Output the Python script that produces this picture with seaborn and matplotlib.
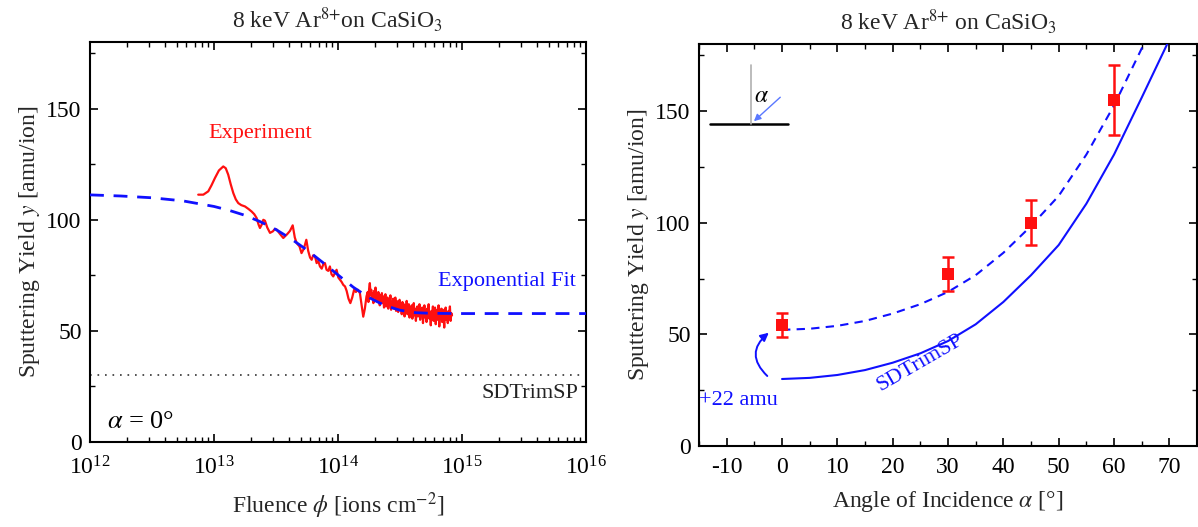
import numpy as np
import pandas as pd
import matplotlib
matplotlib.use("Agg")
import matplotlib.pyplot as plt
from matplotlib.patches import FancyArrowPatch
from matplotlib.ticker import MultipleLocator, LogLocator, NullFormatter
import seaborn as sns

# ---------------- data: fluence dependence (alpha = 0 deg) ----------------
exp_log_fluence = [12.873, 12.914, 12.954, 12.98, 13.008, 13.04, 13.075, 13.095, 13.115, 13.135,
                   13.156, 13.176, 13.196, 13.22, 13.25, 13.28, 13.304, 13.325, 13.344, 13.36,
                   13.371, 13.385, 13.398, 13.411, 13.43, 13.452, 13.475, 13.49, 13.506, 13.53,
                   13.559, 13.59, 13.613, 13.635, 13.652, 13.667, 13.69, 13.706, 13.725, 13.745,
                   13.76, 13.775, 13.788, 13.80, 13.815, 13.828, 13.841, 13.855, 13.869, 13.882,
                   13.895, 13.908, 13.922, 13.935, 13.948, 13.962, 13.975, 13.989, 14.003, 14.016,
                   14.03, 14.043, 14.057, 14.07, 14.085, 14.10, 14.115, 14.13, 14.145, 14.16,
                   14.177, 14.19, 14.204, 14.217, 14.23]
exp_yield = [111.3, 111.3, 112.8, 115.5, 118.8, 122.2, 124.0, 123.2, 120.3, 116.0,
             112.0, 109.2, 107.5, 106.6, 106.0, 104.8, 103.7, 102.5, 100.8, 97.8,
             96.3, 97.8, 100.0, 99.6, 96.5, 94.1, 94.8, 95.8, 95.6, 93.8,
             91.8, 93.5, 95.0, 97.5, 92.0, 89.5, 88.0, 85.0, 87.0, 91.0,
             86.0, 83.0, 82.0, 84.0, 83.5, 80.5, 81.5, 79.0, 78.0, 80.0,
             80.5, 77.5, 77.0, 79.0, 75.5, 74.5, 76.0, 77.5, 74.0, 73.0,
             72.0, 70.7, 70.0, 68.0, 64.5, 62.5, 65.0, 68.5, 67.5, 68.5,
             67.0, 62.0, 56.4, 60.0, 65.5]

# densely sampled tail of the measurement (evenly spaced in log fluence)
tail_log_start, tail_log_end = 14.24, 14.92
tail_yield = [67.5, 63.0, 69.0, 71.5, 66.0, 68.5, 64.5, 67.0, 62.5, 68.0,
              65.5, 69.5, 64.0, 66.5, 63.0, 67.5, 65.0, 61.5, 66.0, 64.0,
              67.0, 62.5, 65.5, 60.5, 64.5, 66.5, 61.0, 63.5, 65.0, 60.0,
              64.0, 62.0, 66.0, 59.5, 63.0, 61.5, 64.5, 60.0, 62.5, 65.0,
              59.0, 63.5, 61.0, 58.5, 62.5, 64.0, 59.5, 61.5, 57.5, 63.0,
              60.0, 62.0, 56.5, 61.5, 59.0, 63.5, 57.5, 60.5, 62.0, 56.0,
              60.0, 58.5, 61.5, 55.5, 59.5, 62.5, 57.0, 60.0, 54.5, 59.0,
              61.0, 56.5, 58.5, 62.0, 55.0, 59.5, 57.0, 60.5, 53.5, 58.0,
              61.5, 56.0, 59.0, 54.0, 60.0, 57.5, 62.0, 55.5, 58.5, 52.5,
              59.0, 56.5, 61.0, 54.5, 58.0, 60.5, 53.0, 57.5, 59.5, 55.0,
              61.5, 52.0, 58.5, 56.0, 60.0, 54.0, 59.5, 57.0, 51.5, 58.0,
              60.5, 55.0, 57.5, 53.5, 59.0, 56.0, 61.0, 54.5, 58.0, 57.0]

fit_log_fluence = [12.0, 12.25, 12.5, 12.75, 13.0, 13.125, 13.25, 13.375, 13.5, 13.625,
                   13.75, 13.875, 14.0, 14.125, 14.25, 14.375, 14.5, 14.625, 14.75, 15.0,
                   15.5, 16.0]
fit_yield = [111.2, 110.7, 109.9, 108.5, 106.0, 104.2, 102.0, 99.1, 95.6, 91.3,
             86.4, 80.9, 75.2, 69.6, 65.0, 61.5, 59.3, 58.2, 57.9, 57.8,
             57.8, 57.8]

sdtrim_normal = 30.3

# ---------------- data: angular dependence ----------------
meas_angle = [0, 30, 45, 60]
meas_yield = [54.0, 77.0, 100.0, 155.0]
meas_err = [5.4, 7.6, 10.0, 15.7]

sim_angle = [0, 5, 10, 15, 20, 25, 30, 35, 40, 45, 50, 55, 60, 65, 70]
sim_yield = [30.0, 30.5, 31.8, 34.0, 37.3, 41.5, 47.0, 54.5, 64.5, 76.5,
             90.0, 108.5, 130.5, 156.0, 182.0]
yield_shift = 22  # amu/ion added to the simulation

# ---------------- style ----------------
sns.set_theme(style="ticks")
plt.rcParams.update({
    "font.family": ["Liberation Serif", "DejaVu Serif"],
    "mathtext.fontset": "stix",
    "axes.unicode_minus": False,
    "axes.linewidth": 1.5,
    "axes.edgecolor": "black",
    "xtick.color": "black",
    "ytick.color": "black",
    "xtick.direction": "in",
    "ytick.direction": "in",
    "xtick.major.size": 6,
    "ytick.major.size": 6,
    "xtick.minor.size": 3.5,
    "ytick.minor.size": 3.5,
    "xtick.major.width": 1.2,
    "ytick.major.width": 1.2,
    "xtick.minor.width": 1.0,
    "ytick.minor.width": 1.0,
    "xtick.labelsize": 17,
    "ytick.labelsize": 17,
    "axes.labelsize": 17,
    "axes.titlesize": 17,
})

BLUE = "#1010ff"
RED = "#ff1010"

fig = plt.figure(figsize=(11.98, 5.27), dpi=100)
axL = fig.add_axes([0.0751, 0.1613, 0.414, 0.759])
axR = fig.add_axes([0.5835, 0.1537, 0.4157, 0.7628])

# ---------------- left panel ----------------
axL.set_xscale("log")
tail_log = np.linspace(tail_log_start, tail_log_end, len(tail_yield))
exp_df = pd.DataFrame({
    "fluence": 10 ** np.concatenate([exp_log_fluence, tail_log]),
    "yield": np.concatenate([exp_yield, tail_yield]),
})
fit_df = pd.DataFrame({"fluence": 10 ** np.array(fit_log_fluence), "yield": fit_yield})

sns.lineplot(data=exp_df, x="fluence", y="yield", ax=axL, color=RED, lw=1.6,
             sort=False, estimator=None, zorder=3)
sns.lineplot(data=fit_df, x="fluence", y="yield", ax=axL, color=BLUE, lw=2.0,
             sort=False, estimator=None, zorder=4, linestyle=(0, (5, 3.5)))
axL.axhline(sdtrim_normal, color="#333333", lw=1.2, linestyle=(0, (1, 3.5)), zorder=2)

axL.set_xlim(1e12, 1e16)
axL.set_ylim(0, 180)
axL.xaxis.set_major_locator(LogLocator(base=10, numticks=10))
axL.xaxis.set_minor_locator(LogLocator(base=10, subs=np.arange(2, 10), numticks=50))
axL.xaxis.set_minor_formatter(NullFormatter())
axL.yaxis.set_major_locator(MultipleLocator(50))
axL.yaxis.set_minor_locator(MultipleLocator(25))
axL.tick_params(which="both", top=True, right=True)
axL.tick_params(axis="x", which="major", pad=10)
axL.tick_params(axis="y", which="major", pad=6)

axL.text(10 ** 13.37, 139, "Experiment", color=RED, fontsize=16, ha="center", va="center")
axL.text(10 ** 15.36, 72, "Exponential Fit", color=BLUE, fontsize=16, ha="center", va="center")
axL.text(10 ** 15.55, 22, "SDTrimSP", color="#222222", fontsize=16, ha="center", va="center")
axL.text(10 ** 12.14, 9, r"$\alpha$ = 0°", color="black", fontsize=19, ha="left", va="center")

axL.set_xlabel(r"Fluence $\phi$ [ions cm$^{-2}$]", labelpad=8)
axL.set_ylabel(r"Sputtering Yield $y$ [amu/ion]", labelpad=3)
axL.set_title(r"8 keV Ar$^{8{+}}$on CaSiO$_3$", pad=10)

# ---------------- right panel ----------------
sim_df = pd.DataFrame({"angle": sim_angle, "yield": sim_yield})
shifted_df = pd.DataFrame({"angle": sim_angle, "yield": np.array(sim_yield) + yield_shift})
meas_df = pd.DataFrame({"angle": meas_angle, "yield": meas_yield, "err": meas_err})

sns.lineplot(data=sim_df, x="angle", y="yield", ax=axR, color=BLUE, lw=1.5,
             estimator=None, zorder=3)
sns.lineplot(data=shifted_df, x="angle", y="yield", ax=axR, color=BLUE, lw=1.5,
             estimator=None, zorder=3, linestyle=(0, (4, 3)))
axR.errorbar(meas_df["angle"], meas_df["yield"], yerr=meas_df["err"], fmt="none",
             ecolor=RED, elinewidth=1.8, capsize=4, capthick=1.8, zorder=4)
sns.scatterplot(data=meas_df, x="angle", y="yield", ax=axR, color=RED, marker="s",
                s=85, edgecolor=RED, linewidth=0, zorder=5)

axR.set_xlim(-15, 75)
axR.set_ylim(0, 180)
axR.xaxis.set_major_locator(MultipleLocator(10))
axR.xaxis.set_minor_locator(MultipleLocator(5))
axR.yaxis.set_major_locator(MultipleLocator(50))
axR.yaxis.set_minor_locator(MultipleLocator(25))
axR.tick_params(which="both", top=True, right=True)
axR.tick_params(axis="x", which="major", pad=8)
axR.tick_params(axis="y", which="major", pad=6)

# curved arrow: shift of the simulation to the measurement
axR.add_patch(FancyArrowPatch((-2.3, 30.5), (-2.0, 51.5),
                              connectionstyle="arc3,rad=-0.6", arrowstyle="-|>",
                              mutation_scale=12, color=BLUE, lw=1.4, zorder=4))
axR.text(-7.9, 20.3, f"+{yield_shift} amu", color=BLUE, fontsize=16, ha="center", va="center")
axR.text(25.0, 37.0, "SDTrimSP", color=BLUE, fontsize=16, ha="center", va="center",
         rotation=30, rotation_mode="anchor")

# geometry sketch of the incidence angle
axR.plot([-13.0, 1.1], [144.4, 144.4], color="black", lw=1.8, zorder=3)
axR.plot([-5.6, -5.6], [144.4, 170.5], color="#b0b0b0", lw=1.2, zorder=3)
axR.add_patch(FancyArrowPatch((0.05, 157.0), (-5.45, 144.6), arrowstyle="-|>",
                              mutation_scale=10, color="#5a78ff", lw=1.0, zorder=4))
axR.text(-3.8, 156.5, r"$\alpha$", color="black", fontsize=17, ha="center", va="center")

axR.set_xlabel(r"Angle of Incidence $\alpha$ [°]", labelpad=8)
axR.set_ylabel(r"Sputtering Yield $y$ [amu/ion]", labelpad=3)
axR.set_title(r"8 keV Ar$^{8{+}}$ on CaSiO$_3$", pad=10)

fig.savefig("out.png", dpi=100)
